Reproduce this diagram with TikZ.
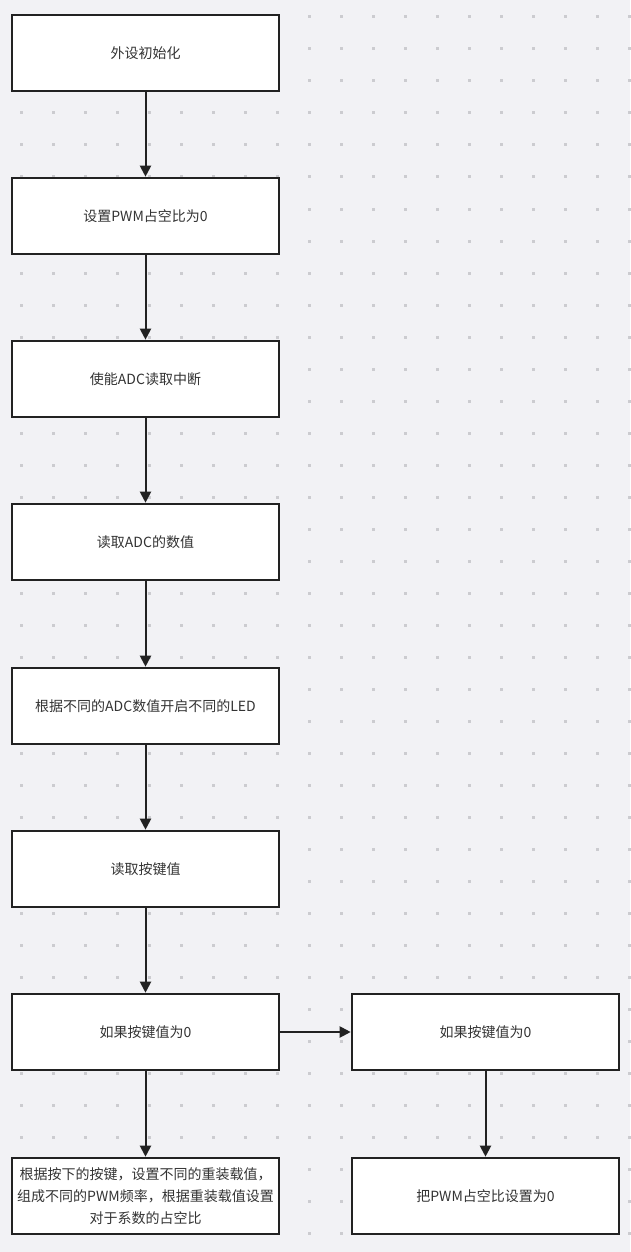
\documentclass[tikz,border=0pt]{standalone}
\usepackage{fontspec}
\setmainfont{Noto Sans CJK SC}
\usetikzlibrary{arrows.meta}
\definecolor{Bgfill}{RGB}{242,242,245}
\definecolor{Dotfill}{RGB}{204,204,208}
\definecolor{Edge}{RGB}{34,34,34}
\definecolor{Txt}{RGB}{51,51,51}
\tikzset{
  stepbox/.style={draw=Edge,line width=2.6pt,fill=white,minimum width=267pt,minimum height=76pt,inner sep=2pt,text=Txt,align=center,font=\fontsize{14}{22}\selectfont},
  flow/.style={draw=Edge,line width=2pt,-{Triangle[length=11pt,width=11pt]}}
}
\begin{document}
\begin{tikzpicture}[x=1pt,y=-1pt]
\path[use as bounding box,fill=Bgfill] (0,0) rectangle (630,1252);
% dot grid
\foreach \gx in {21,53,...,630} {
  \foreach \gy in {17,49,...,1252} {
    \fill[Dotfill] (\gx-1.5,\gy-1.5) rectangle (\gx+1.5,\gy+1.5);
  }
}
\node[stepbox] (init) at (145.5,53) {外设初始化};
\node[stepbox] (pwm0) at (145.5,216) {设置PWM占空比为0};
\node[stepbox] (adcint) at (145.5,379) {使能ADC读取中断};
\node[stepbox] (adcread) at (145.5,542) {读取ADC的数值};
\node[stepbox] (led) at (145.5,706) {根据不同的ADC数值开启不同的LED};
\node[stepbox] (key) at (145.5,869) {读取按键值};
\node[stepbox] (keyzero) at (145.5,1032) {如果按键值为0};
\node[stepbox] (reload) at (145.5,1196) {根据按下的按键，设置不同的重装载值，\\组成不同的PWM频率，根据重装载值设置\\对于系数的占空比};
\node[stepbox] (keyzero2) at (485.5,1032) {如果按键值为0};
\node[stepbox] (pwmset) at (485.5,1196) {把PWM占空比设置为0};
\draw[flow] (init) -- (pwm0);
\draw[flow] (pwm0) -- (adcint);
\draw[flow] (adcint) -- (adcread);
\draw[flow] (adcread) -- (led);
\draw[flow] (led) -- (key);
\draw[flow] (key) -- (keyzero);
\draw[flow] (keyzero) -- (reload);
\draw[flow] (keyzero) -- (keyzero2);
\draw[flow] (keyzero2) -- (pwmset);
\end{tikzpicture}
\end{document}
